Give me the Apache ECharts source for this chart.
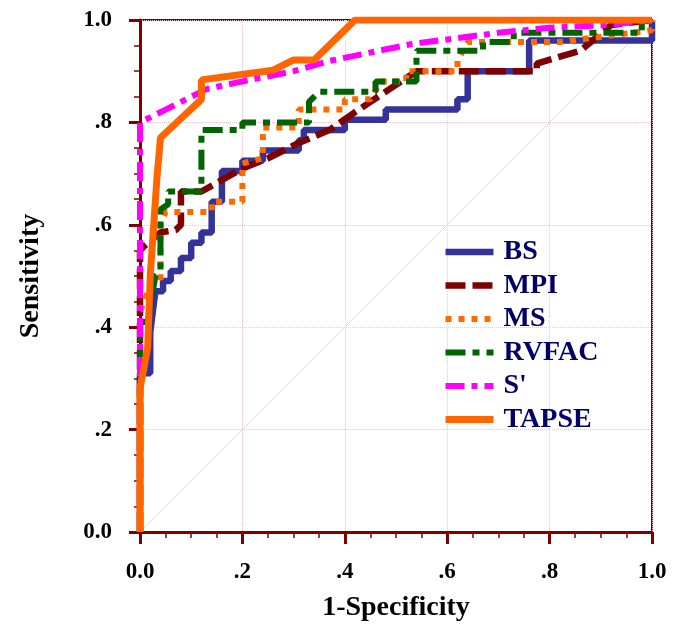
<!DOCTYPE html>
<html>
<head>
<meta charset="UTF-8">
<script src="https://cdn.jsdelivr.net/npm/echarts@6/dist/echarts.min.js"></script>
<style>
  html, body { margin: 0; padding: 0; background: #fff; }
  #chart { width: 681px; height: 628px; }
</style>
</head>
<body>
<div id="chart"></div>
<script>
// ROC points [1-specificity, sensitivity]
var bsPts = [[0,0],[0,0.31],[0.02,0.31],[0.02,0.39],[0.03,0.47],[0.045,0.47],[0.045,0.49],[0.06,0.49],[0.06,0.51],
  [0.08,0.51],[0.08,0.535],[0.1,0.535],[0.1,0.565],[0.12,0.565],[0.12,0.585],[0.14,0.585],[0.14,0.645],[0.16,0.645],
  [0.16,0.705],[0.2,0.705],[0.2,0.725],[0.24,0.725],[0.24,0.745],[0.31,0.745],[0.31,0.765],[0.32,0.765],[0.32,0.785],
  [0.4,0.785],[0.4,0.805],[0.48,0.805],[0.48,0.825],[0.62,0.825],[0.62,0.845],[0.64,0.845],[0.64,0.9],[0.76,0.9],
  [0.76,0.96],[1,0.96],[1,1]];
var mpiPts = [[0,0],[0,0.55],[0.01,0.56],[0.04,0.585],[0.07,0.59],[0.08,0.6],[0.08,0.665],[0.12,0.665],[0.2,0.71],
  [0.25,0.73],[0.31,0.76],[0.37,0.785],[0.42,0.82],[0.54,0.9],[0.775,0.9],[0.775,0.915],[0.86,0.94],[0.92,0.99],[1,1]];
var msPts = [[0,0],[0,0.43],[0.02,0.48],[0.04,0.49],[0.04,0.6],[0.05,0.625],[0.14,0.625],[0.14,0.645],[0.2,0.645],
  [0.2,0.72],[0.24,0.73],[0.24,0.79],[0.31,0.79],[0.31,0.825],[0.4,0.825],[0.4,0.845],[0.45,0.845],[0.47,0.88],
  [0.52,0.88],[0.52,0.9],[0.62,0.9],[0.62,0.92],[0.64,0.957],[0.82,0.957],[1,0.98],[1,1]];
var rvfacPts = [[0,0],[0,0.41],[0.015,0.41],[0.03,0.5],[0.04,0.51],[0.04,0.63],[0.055,0.64],[0.055,0.665],[0.12,0.665],
  [0.12,0.785],[0.2,0.785],[0.2,0.8],[0.33,0.8],[0.33,0.84],[0.35,0.86],[0.46,0.86],[0.46,0.88],[0.54,0.88],
  [0.54,0.94],[0.67,0.94],[0.67,0.957],[0.73,0.957],[0.73,0.975],[0.98,0.975],[0.98,1],[1,1]];
var sPts = [[0,0],[0,0.8],[0.05,0.825],[0.1,0.85],[0.13,0.865],[0.2,0.88],[0.3,0.9],[0.37,0.92],[0.53,0.953],
  [0.7,0.975],[0.8,0.985],[0.91,0.99],[1,1]];
var tapsePts = [[0,0],[0,0.28],[0.015,0.36],[0.02,0.5],[0.033,0.69],[0.04,0.77],[0.12,0.845],[0.12,0.883],
  [0.26,0.902],[0.3,0.922],[0.34,0.922],[0.42,1],[1,1]];
var refPts = [[0,0],[1,1]];

var names = ['BS', 'MPI', 'MS', 'RVFAC', "S'", 'TAPSE'];
var ticks = ['0.0', '.2', '.4', '.6', '.8', '1.0'];

var axisRed = '#7f0000';
var serif = 'Liberation Serif';

function fmt(v) {
  return ticks[Math.round(v * 5)];
}

var myChart = echarts.init(document.getElementById('chart'));

function roc(name, pts, color, width, dash) {
  return {
    name: name,
    type: 'line',
    data: pts,
    symbol: 'none',
    silent: true,
    lineStyle: { color: color, width: width, type: dash },
    itemStyle: { color: color }
  };
}

var axisCommon = {
  type: 'value',
  min: 0,
  max: 1,
  interval: 0.2,
  axisLine: { show: true, lineStyle: { color: axisRed, width: 3 } },
  minorTick: { show: true, splitNumber: 4, length: 6, lineStyle: { color: axisRed, width: 1.5 } },
  splitLine: { show: true, lineStyle: { color: '#ecc6cc', type: 'dotted', width: 1 } },
  axisLabel: {
    formatter: fmt,
    fontFamily: serif,
    fontWeight: 'bold',
    fontSize: 23,
    color: '#000'
  },
  nameLocation: 'middle',
  nameTextStyle: { fontFamily: serif, fontWeight: 'bold', fontSize: 28, color: '#000' }
};

var option = {
  animation: false,
  backgroundColor: '#fff',
  grid: {
    left: 140, right: 29, top: 20, bottom: 96,
    show: true, borderColor: axisRed, borderWidth: 2
  },
  xAxis: Object.assign({}, axisCommon, {
    name: '1-Specificity',
    nameGap: 62,
    axisTick: { show: true, length: 12, lineStyle: { color: axisRed, width: 3 } },
    axisLabel: Object.assign({}, axisCommon.axisLabel, { margin: 29 })
  }),
  yAxis: Object.assign({}, axisCommon, {
    name: 'Sensitivity',
    nameGap: 95,
    nameRotate: 90,
    axisTick: { show: true, length: 11, lineStyle: { color: axisRed, width: 3 } },
    axisLabel: Object.assign({}, axisCommon.axisLabel, { margin: 28 })
  }),
  legend: {
    data: names,
    orient: 'vertical',
    left: 437,
    top: 233,
    itemWidth: 48,
    itemHeight: 14,
    itemGap: 5.5,
    lineStyle: { width: 'inherit' },
    itemStyle: { opacity: 0 },
    textStyle: { fontFamily: serif, fontWeight: 'bold', fontSize: 28, color: '#000066', lineHeight: 28, padding: [0, 0, 0, 5] },
    selectedMode: false
  },
  series: [
    {
      type: 'line',
      data: refPts,
      symbol: 'none',
      silent: true,
      lineStyle: { color: '#f2d4d6', width: 1 }
    },
    roc('BS', bsPts, '#333399', 6.5, 'solid'),
    roc('MPI', mpiPts, '#7f0000', 6.5, [20, 7]),
    roc('MS', msPts, '#ff6a00', 6, [6, 7]),
    roc('RVFAC', rvfacPts, '#006400', 6, [20, 7, 7, 7]),
    roc("S'", sPts, '#ff00ff', 6, [19, 7, 6, 7]),
    roc('TAPSE', tapsePts, '#ff6600', 7, 'solid')
  ]
};
myChart.setOption(option);
</script>
</body>
</html>
